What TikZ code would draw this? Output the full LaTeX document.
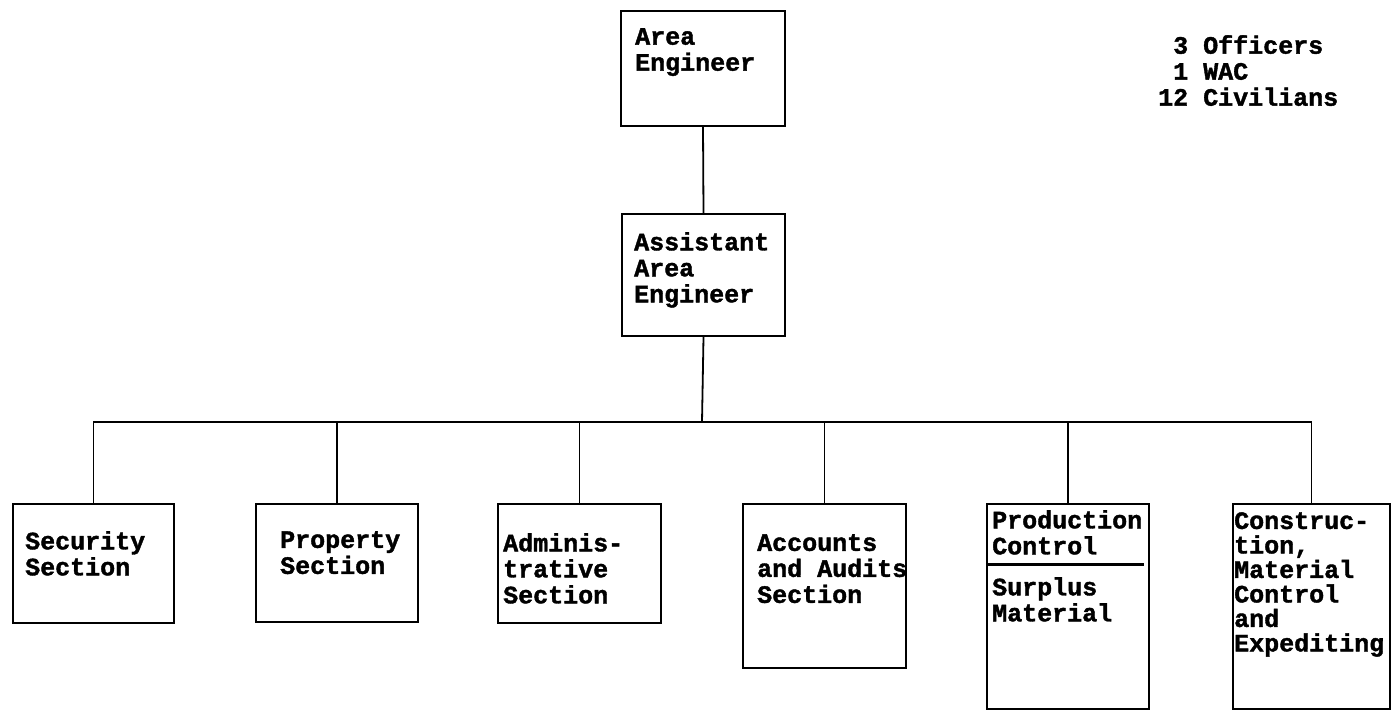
\documentclass[tikz,border=0pt]{standalone}
\usepackage{fontspec}
\setmonofont{Liberation Mono}[BoldFeatures={FakeBold=1.5}]
\tikzset{
  unit/.style={draw, line width=2pt, inner sep=0pt, anchor=north west},
  lbl/.style={anchor=north west, inner sep=0pt, align=left,
    font=\ttfamily\bfseries\fontsize{25}{26}\selectfont},
  link/.style={line width=1.8pt}
}
\begin{document}
\begin{tikzpicture}[x=1pt,y=-1pt]
\useasboundingbox (0,0) rectangle (1392,712);
% boxes
\node[unit, minimum width=164pt, minimum height=115pt] (ae) at (620,10) {};
\node[unit, minimum width=163pt, minimum height=122pt] (aae) at (621,213) {};
\node[unit, minimum width=161pt, minimum height=119pt] (sec) at (12,503) {};
\node[unit, minimum width=162pt, minimum height=118pt] (prop) at (255,503) {};
\node[unit, minimum width=163pt, minimum height=119pt] (adm) at (497,503) {};
\node[unit, minimum width=163pt, minimum height=164pt] (acc) at (742,503) {};
\node[unit, minimum width=162pt, minimum height=205pt] (prod) at (986,503) {};
\node[unit, minimum width=157pt, minimum height=205pt] (con) at (1232,503) {};
% texts
\node[lbl] (aetxt) at (635,28) {Area\\Engineer};
\node[lbl] (aaetxt) at (634,232) {Assistant\\Area\\Engineer};
\node[lbl] (sectxt) at (25,531) {Security\\Section};
\node[lbl] (proptxt) at (280,531) {Property\\Section};
\node[lbl] (admtxt) at (503,533) {Adminis-\\trative\\Section};
\node[lbl] (acctxt) at (757,534) {Accounts\\and Audits\\Section};
\node[lbl] (prodtxt) at (992,510) {Production\\Control};
\node[lbl] (surtxt) at (992,577) {Surplus\\Material};
\node[lbl, font=\ttfamily\bfseries\fontsize{25}{24.5}\selectfont] (contxt) at (1234,512)
  {Construc-\\tion,\\Material\\Control\\and\\Expediting};
\node[lbl] (staff) at (1158,35) {\hphantom{1}3 Officers\\\hphantom{1}1 WAC\\12 Civilians};
% rule in production box
\draw[line width=3pt] ([yshift=-61pt]prod.north west) -- ++(158,0);
% connectors
\coordinate (bus) at (702,422);
\draw[link] (ae.south) -- (aae.north);
\draw[link] (aae.south) -- (bus);
\foreach \n in {sec,prop,adm,acc,prod,con}
  \draw[link] (bus) -| (\n.north);
\end{tikzpicture}
\end{document}
